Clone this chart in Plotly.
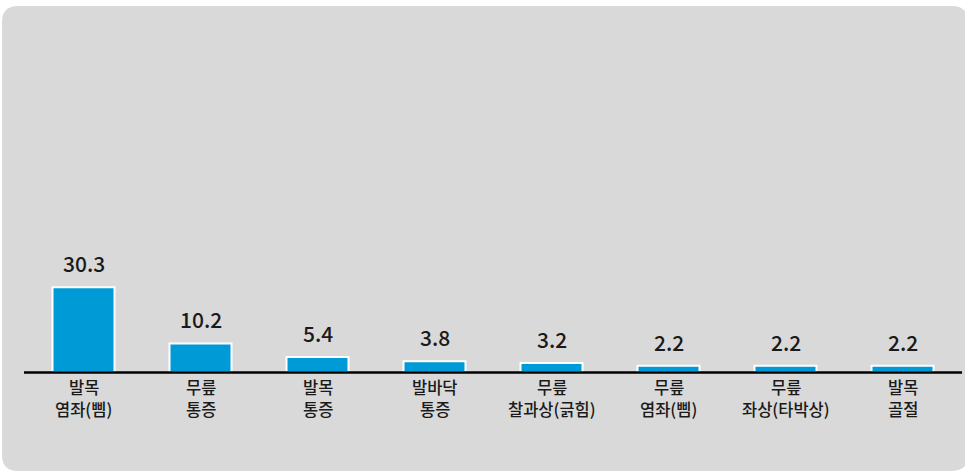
import plotly.graph_objects as go

cat_line1 = ["발목", "무릎", "발목", "발바닥", "무릎", "무릎", "무릎", "발목"]
cat_line2 = ["염좌(삠)", "통증", "통증", "통증", "찰과상(긁힘)", "염좌(삠)", "좌상(타박상)", "골절"]
values = [30.3, 10.2, 5.4, 3.8, 3.2, 2.2, 2.2, 2.2]
value_labels = ["30.3", "10.2", "5.4", "3.8", "3.2", "2.2", "2.2", "2.2"]

W, H = 965, 474
FONT = "Noto Sans CJK KR"
TXT = "#1a1a1a"

def px_x(p):
    return p / W

def px_y(p):
    return 1 - p / H

x_ids = list(range(len(values)))

fig = go.Figure()
fig.add_trace(go.Bar(
    x=x_ids, y=values,
    marker=dict(color="#009BD7", line=dict(color="white", width=2)),
    width=0.53,
    hoverinfo="skip",
))

for xi, v, t in zip(x_ids, values, value_labels):
    fig.add_annotation(x=xi, y=v, text=t, showarrow=False, yanchor="middle",
                       yshift=24, font=dict(family=FONT, size=21, color=TXT, weight=500))

for xi, a, b in zip(x_ids, cat_line1, cat_line2):
    fig.add_annotation(x=xi, y=0, text=a, showarrow=False, yanchor="middle",
                       yshift=-15, font=dict(family=FONT, size=16.5, color=TXT, weight=500))
    fig.add_annotation(x=xi, y=0, text=b, showarrow=False, yanchor="middle",
                       yshift=-37, font=dict(family=FONT, size=16.5, color=TXT, weight=500))

# rounded gray background
x0, x1, y0, y1, r = 2, 968, 6, 471, 16
rx, ry = r / W, r / H
X0, X1, Y0, Y1 = px_x(x0), px_x(x1), px_y(y0), px_y(y1)
path = (f"M {X0+rx},{Y0} L {X1-rx},{Y0} Q {X1},{Y0} {X1},{Y0-ry} "
        f"L {X1},{Y1+ry} Q {X1},{Y1} {X1-rx},{Y1} "
        f"L {X0+rx},{Y1} Q {X0},{Y1} {X0},{Y1+ry} "
        f"L {X0},{Y0-ry} Q {X0},{Y0} {X0+rx},{Y0} Z")
fig.add_shape(type="path", path=path, xref="paper", yref="paper",
              fillcolor="#D9D9D9", line=dict(width=0), layer="below")

# baseline
fig.add_shape(type="line", xref="paper", yref="paper",
              x0=px_x(24), x1=px_x(962), y0=px_y(372.5), y1=px_y(372.5),
              line=dict(color="black", width=2.5), layer="above")

fig.update_layout(
    width=W, height=H,
    margin=dict(l=0, r=0, t=0, b=0),
    paper_bgcolor="white",
    plot_bgcolor="rgba(0,0,0,0)",
    showlegend=False,
    xaxis=dict(
        domain=[px_x(25), px_x(961)],
        range=[-0.5, len(values) - 0.5],
        showticklabels=False,
        showgrid=False, zeroline=False, showline=False, ticks="",
        fixedrange=True,
    ),
    yaxis=dict(
        domain=[px_y(372), px_y(20)],
        range=[0, (372 - 20) / 2.8],
        visible=False, showgrid=False, zeroline=False,
        fixedrange=True,
    ),
)

fig.write_html("out.html", config={"displayModeBar": False},
               post_script="document.body.style.margin='0px';")
